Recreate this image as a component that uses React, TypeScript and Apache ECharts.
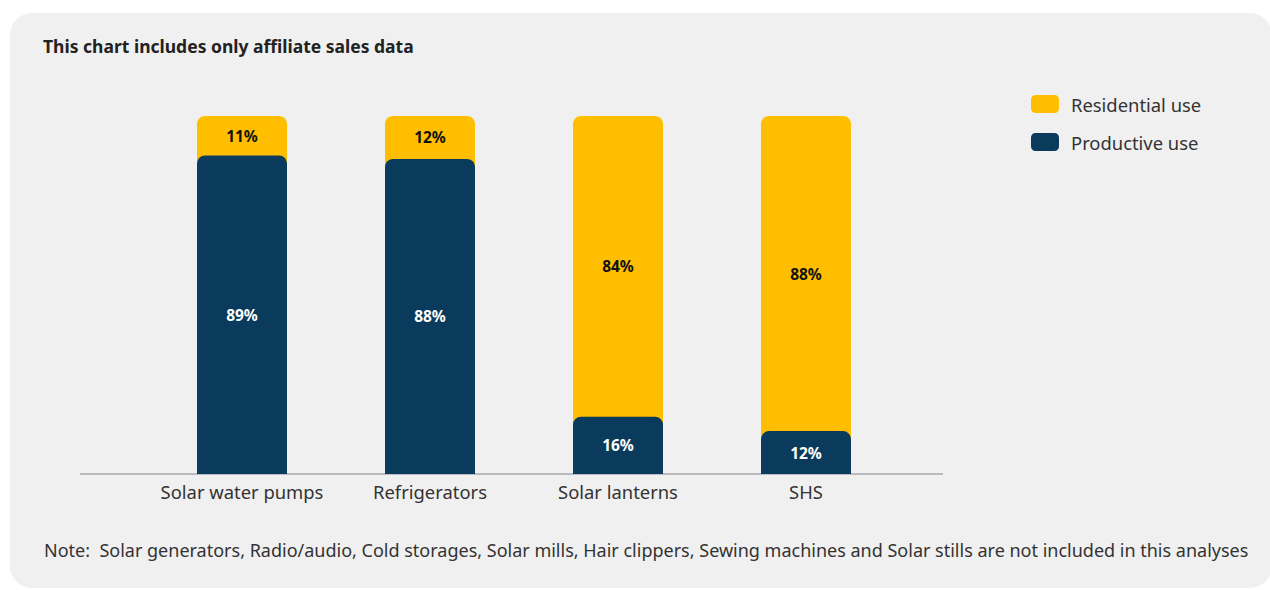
import React, { useEffect, useRef } from "react";
import * as echarts from "echarts";

// Affiliate sales split by use type (percent of units)
const categories = ["Solar water pumps", "Refrigerators", "Solar lanterns", "SHS"];
const productiveUse = [89, 88, 16, 12];
const residentialUse = [11, 12, 84, 88];

const YELLOW = "#FFBE00";
const NAVY = "#0A3A5C";
const FONT = "'Noto Sans', 'Open Sans', sans-serif";

export default function App() {
  const ref = useRef<HTMLDivElement>(null);

  useEffect(() => {
    document.body.style.margin = "0";
    const chart = echarts.init(ref.current!, null, { renderer: "svg" });
    chart.setOption({
      animation: false,
      backgroundColor: "#ffffff",
      textStyle: { fontFamily: FONT },
      graphic: [
        {
          type: "rect",
          z: -10,
          silent: true,
          shape: { x: 10, y: 13, width: 1262, height: 575, r: 22 },
          style: { fill: "#f0f0f0" },
        },
        {
          type: "text",
          left: 43,
          top: 37,
          style: {
            text: "This chart includes only affiliate sales data",
            fontFamily: FONT,
            fontWeight: "bold",
            fontSize: 17.5,
            fill: "#222222",
          },
        },
        {
          type: "line",
          z: 1,
          silent: true,
          shape: { x1: 80, y1: 474, x2: 943, y2: 474 },
          style: { stroke: "#a9a9b0", lineWidth: 1.6 },
        },
        {
          type: "text",
          left: 44,
          top: 541,
          style: {
            text:
              "Note:  Solar generators, Radio/audio, Cold storages, Solar mills, Hair clippers, Sewing machines and Solar stills are not included in this analyses",
            fontFamily: FONT,
            fontSize: 18,
            fill: "#333333",
          },
        },
      ],
      legend: {
        orient: "vertical",
        left: 1026,
        top: 90,
        itemWidth: 28,
        itemHeight: 18,
        itemGap: 20,
        icon: "roundRect",
        data: ["Residential use", "Productive use"],
        textStyle: {
          fontFamily: FONT,
          fontSize: 18.4,
          color: "#333333",
          padding: [0, 0, 0, 7],
        },
      },
      grid: { left: 148, right: 370, top: 116, bottom: 116 },
      xAxis: {
        type: "category",
        data: categories,
        axisLine: { show: false },
        axisTick: { show: false },
        axisLabel: {
          interval: 0,
          fontFamily: FONT,
          fontSize: 18.4,
          color: "#333333",
          margin: 8,
        },
      },
      yAxis: {
        type: "value",
        min: 0,
        max: 100,
        show: false,
        splitLine: { show: false },
      },
      series: [
        {
          name: "Productive use",
          type: "bar",
          stack: "use",
          z: 3,
          barWidth: 90,
          data: productiveUse,
          itemStyle: { color: NAVY, borderRadius: [8, 8, 0, 0] },
          label: {
            show: true,
            position: "inside",
            formatter: "{c}%",
            color: "#ffffff",
            fontFamily: FONT,
            fontWeight: "bold",
            fontSize: 15.5,
          },
        },
        {
          name: "Residential use",
          type: "bar",
          stack: "use",
          z: 2,
          barWidth: 90,
          data: residentialUse,
          itemStyle: {
            color: YELLOW,
            borderRadius: [8, 8, 0, 0],
            shadowColor: YELLOW,
            shadowBlur: 0,
            shadowOffsetY: 10,
          },
          label: {
            show: true,
            position: "inside",
            formatter: "{c}%",
            color: "#111111",
            fontFamily: FONT,
            fontWeight: "bold",
            fontSize: 15.5,
          },
        },
      ],
    });
    return () => chart.dispose();
  }, []);

  return <div ref={ref} style={{ width: 1270, height: 590 }} />;
}
